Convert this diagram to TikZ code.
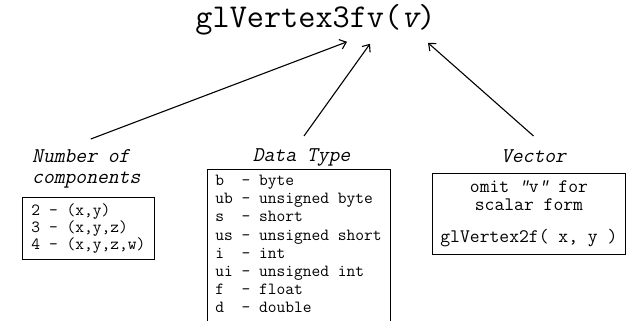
\documentclass[tikz,border=0pt]{standalone}
\usepackage{fontspec}
\setmonofont{Latin Modern Mono}
\newfontfamily\obliquett[FakeSlant=0.22]{Latin Modern Mono}
\usepackage{tikz}
\usetikzlibrary{arrows.meta}

\begin{document}
\begin{tikzpicture}[x=1pt,y=-1pt,
  head/.style={font=\obliquett\fontsize{21}{21}\selectfont, inner sep=0pt},
  listbox/.style={line width=0.8pt, inner xsep=8pt, inner ysep=6pt},
  ptr/.style={-{Straight Barb[length=6pt,width=10pt]}, line width=1.1pt}]
\useasboundingbox (0,0) rectangle (626,321);
% function name
\node[font=\ttfamily\fontsize{33.3}{36}\selectfont, inner sep=0pt, anchor=base] (func) at (315.5,28) {glVertex3fv({\obliquett v})};
% the three headings
\node[head, align=left, anchor=north west] (ncomp) at (32,149) {Number of\\components};
\node[head, anchor=base] (dtype) at (301.5,161) {Data Type};
\node[head, anchor=base] (vect) at (533.5,162) {Vector};
% boxes
\node[listbox, draw, anchor=north west, minimum width=132pt, minimum height=62pt, inner ysep=0pt, align=left,
  font=\ttfamily\fontsize{17}{12.8}\selectfont] (comps) at (22,197)
  {2 - (x,y)\\3 - (x,y,z)\\4 - (x,y,z,w)};
\node[listbox, anchor=north west, align=left, font=\ttfamily\fontsize{17}{18.1}\selectfont] (dtlist) at (207,169)
  {b~~- byte\\ub - unsigned byte\\s~~- short\\us - unsigned short\\i~~- int\\ui - unsigned int\\f~~- float\\d~~- double};
\draw[listbox] ([yshift=-14pt]dtlist.south west) |- (dtlist.north east) -- ([yshift=-14pt]dtlist.south east);
\node[listbox, draw, anchor=north west, minimum width=193pt, minimum height=81pt, inner ysep=0pt, align=center,
  font=\ttfamily\fontsize{19.1}{18}\selectfont] (vbox) at (432,173)
  {omit {\obliquett “}v{\obliquett ”} for\\scalar form\\[14pt]glVertex2f( x, y )};
% arrows
\coordinate (tipA) at ([xshift=31.5pt,yshift=-6pt]func.south);
\coordinate (tipB) at ([xshift=54.5pt,yshift=-8pt]func.south);
\coordinate (tipC) at ([xshift=112.5pt,yshift=-7pt]func.south);
\coordinate (tailA) at ([xshift=4.5pt,yshift=10pt]ncomp.north);
\coordinate (tailB) at ([xshift=2.5pt,yshift=12pt]dtype.north);
\coordinate (tailC) at ([yshift=13pt]vect.north);
\foreach \from/\to in {tailA/tipA, tailB/tipB, tailC/tipC}
  \draw[ptr] (\from) -- (\to);
\end{tikzpicture}
\end{document}
